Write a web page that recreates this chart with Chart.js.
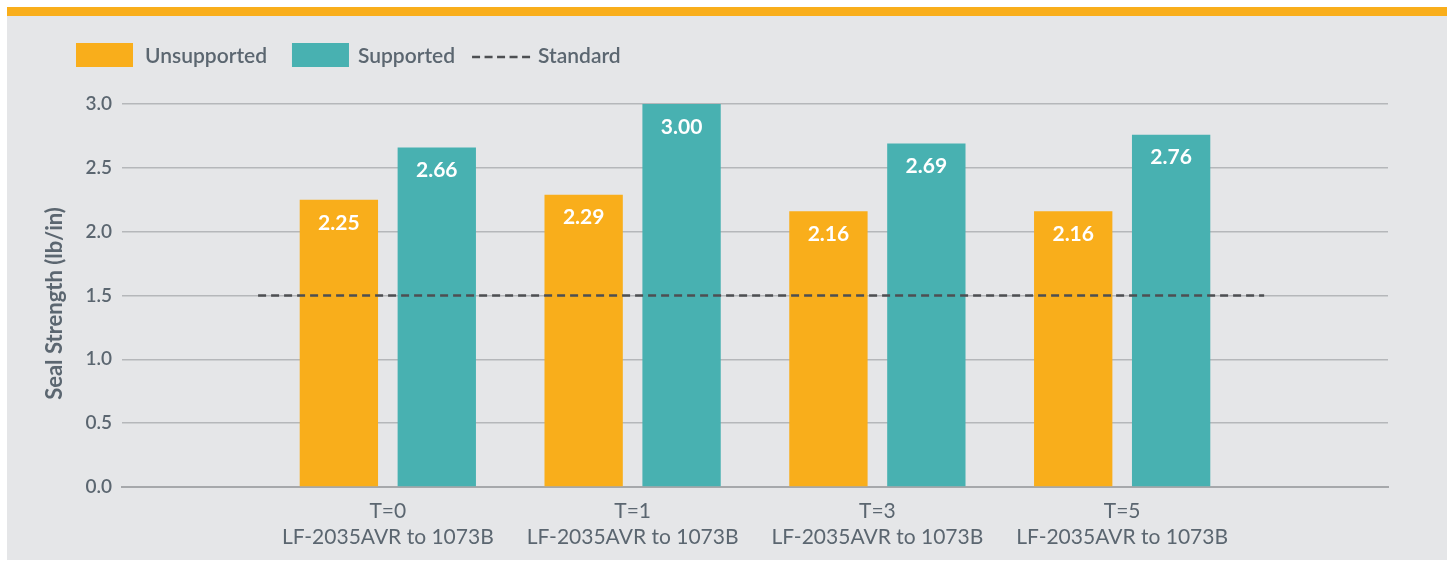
<!DOCTYPE html>
<html>
<head>
<meta charset="utf-8">
<script src="https://cdn.jsdelivr.net/npm/chart.js@4/dist/chart.umd.min.js"></script>
<style>
  html, body { margin: 0; padding: 0; background: #ffffff; }
  .panel {
    position: absolute;
    left: 7px;
    top: 7px;
    width: 1440px;
    height: 544px;
    background: #e5e6e8;
    border-top: 9px solid #f9ae1b;
  }
  .panel canvas { display: block; }
</style>
</head>
<body>
<div class="panel">
  <canvas id="sealChart" width="1440" height="544"></canvas>
</div>
<script>
// Chart values
const timePoints = ['T=0', 'T=1', 'T=3', 'T=5'];
const productLabel = 'LF-2035AVR to 1073B';
const unsupported = [2.25, 2.29, 2.16, 2.16];
const supported = [2.66, 3.00, 2.69, 2.76];
const standardValue = 1.5;
const standardSpan = [-0.53, 3.58];   // x extent of the standard line, in category units
const yTicks = [0, 0.5, 1.0, 1.5, 2.0, 2.5, 3.0];
const yTitle = 'Seal Strength (lb/in)';

const ORANGE = '#f9ae1b';
const TEAL = '#48b1b1';
const TEXT = '#5b6670';
const FONT = 'Lato, "Open Sans", sans-serif';

// draws the white values inside each bar
const barValueLabels = {
    id: 'barValueLabels',
    afterDatasetsDraw(chart) {
        const ctx = chart.ctx;
        ctx.save();
        ctx.fillStyle = '#ffffff';
        ctx.font = 'bold 21px ' + FONT;
        ctx.textAlign = 'center';
        ctx.textBaseline = 'middle';
        [0, 1].forEach(di => {
            const meta = chart.getDatasetMeta(di);
            const values = chart.data.datasets[di].data;
            meta.data.forEach((bar, i) => {
                ctx.fillText(values[i].y.toFixed(2), bar.x, bar.y + 23);
            });
        });
        ctx.restore();
    }
};

// legend row at the top left, plus the rotated axis title
const topLegend = {
    id: 'topLegend',
    afterDraw(chart) {
        const ctx = chart.ctx;
        ctx.save();
        ctx.font = '600 21px ' + FONT;
        ctx.textBaseline = 'middle';
        const y = 39;
        let x = 69;
        chart.data.datasets.forEach((ds, i) => {
            if (ds.type === 'line') {
                ctx.strokeStyle = ds.borderColor;
                ctx.lineWidth = ds.borderWidth;
                ctx.setLineDash([8, 4.5]);
                ctx.beginPath();
                ctx.moveTo(x, y + 2);
                ctx.lineTo(x + 58, y + 2);
                ctx.stroke();
                ctx.setLineDash([]);
            } else {
                ctx.fillStyle = ds.backgroundColor;
                ctx.fillRect(x, y - 12, 57, 24);
            }
            x += 57 + (i === 0 ? 12 : 9);
            ctx.fillStyle = TEXT;
            ctx.fillText(ds.label, x, y + 1);
            x += ctx.measureText(ds.label).width + (i === 0 ? 25 : 17);
        });

        // y axis title
        const area = chart.chartArea;
        ctx.translate(55, (area.top + area.bottom) / 2 + 8);
        ctx.rotate(-Math.PI / 2);
        ctx.font = 'bold 22px ' + FONT;
        ctx.textAlign = 'center';
        ctx.textBaseline = 'alphabetic';
        ctx.fillStyle = TEXT;
        ctx.fillText(yTitle, 0, 0);
        ctx.restore();
    }
};

const ctx = document.getElementById('sealChart').getContext('2d');
new Chart(ctx, {
    type: 'bar',
    data: {
        datasets: [
            {
                label: 'Unsupported',
                data: unsupported.map((v, i) => ({ x: i, y: v })),
                backgroundColor: ORANGE,
                categoryPercentage: 0.8,
                barPercentage: 0.8,
                order: 2
            },
            {
                label: 'Supported',
                data: supported.map((v, i) => ({ x: i, y: v })),
                backgroundColor: TEAL,
                categoryPercentage: 0.8,
                barPercentage: 0.8,
                order: 2
            },
            {
                type: 'line',
                label: 'Standard',
                data: standardSpan.map(x => ({ x: x, y: standardValue })),
                borderColor: '#4d4f52',
                borderWidth: 2.5,
                borderDash: [8, 5],
                pointRadius: 0,
                fill: false,
                order: 1
            }
        ]
    },
    options: {
        responsive: false,
        animation: false,
        layout: { padding: { top: 88, left: 36, right: 59, bottom: 0 } },
        plugins: {
            legend: { display: false },
            tooltip: { enabled: false }
        },
        scales: {
            x: {
                type: 'linear',
                offset: false,
                min: -1.086,
                max: 4.086,
                grid: { display: false, drawTicks: false, offset: false },
                border: { display: true, color: '#a6a8ab', width: 2 },
                afterBuildTicks: scale => {
                    scale.ticks = timePoints.map((_, i) => ({ value: i }));
                },
                afterFit: scale => { scale.height = 73; },
                ticks: {
                    color: TEXT,
                    font: { family: FONT, size: 21, lineHeight: 1.2 },
                    padding: 12,
                    maxRotation: 0,
                    autoSkip: false,
                    callback: (value) => [timePoints[value], productLabel]
                }
            },
            y: {
                min: 0,
                max: 3,
                afterBuildTicks: scale => {
                    scale.ticks = yTicks.map(v => ({ value: v }));
                },
                afterFit: scale => { scale.width = 79; },
                grid: { color: '#b5b7ba', lineWidth: 1.5, drawTicks: false },
                border: { display: false },
                ticks: {
                    color: TEXT,
                    font: { family: FONT, size: 19, weight: '600' },
                    padding: 10,
                    callback: v => v.toFixed(1)
                }
            }
        }
    },
    plugins: [barValueLabels, topLegend]
});
</script>
</body>
</html>
